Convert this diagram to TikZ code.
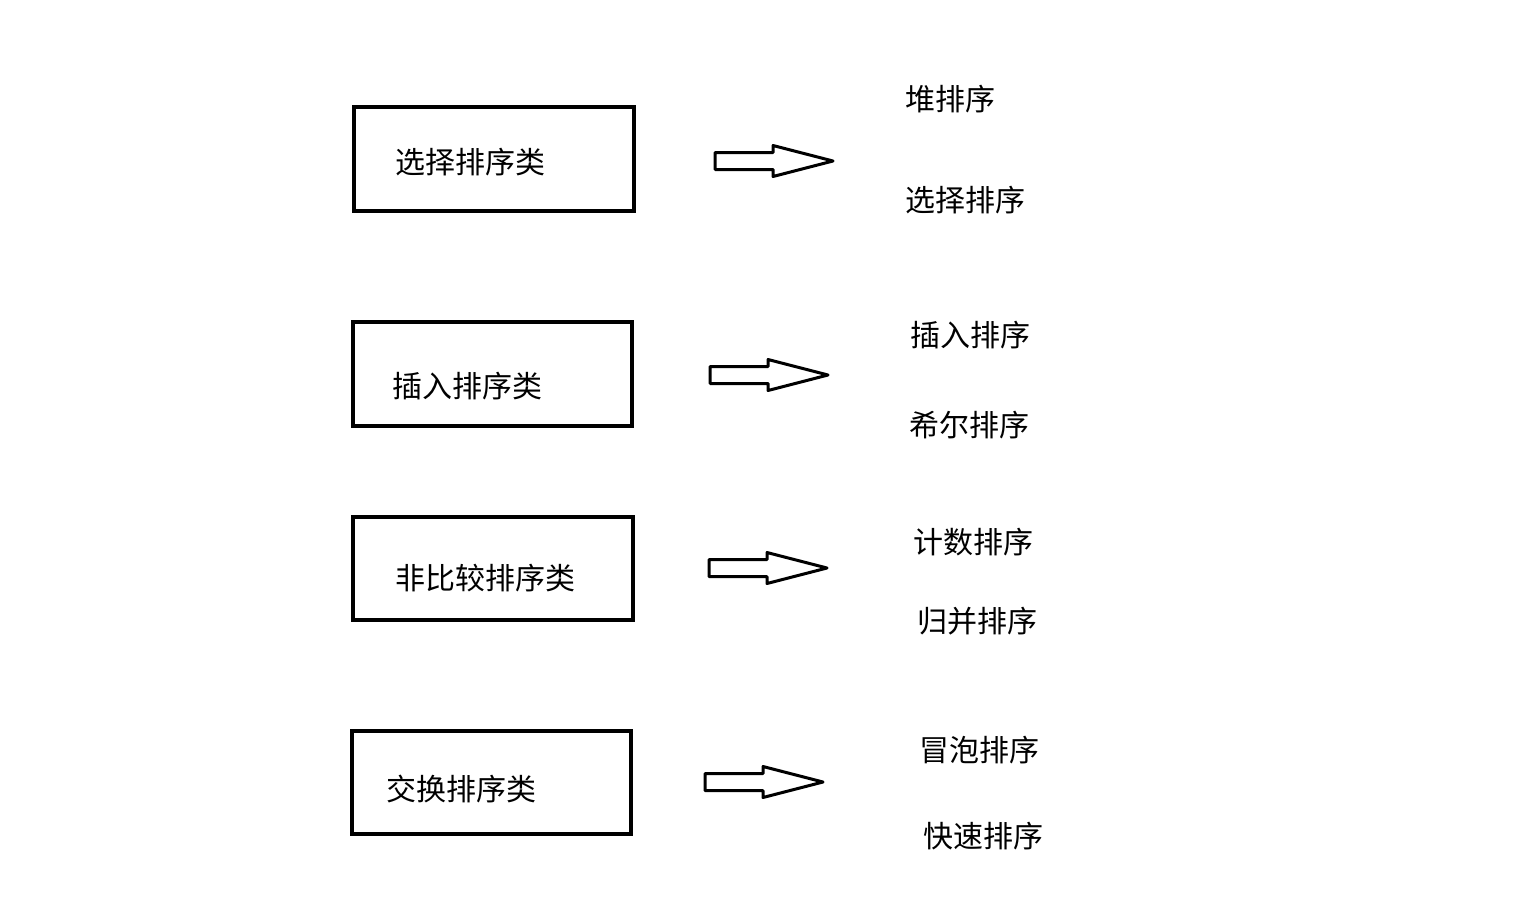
\documentclass[tikz,border=0pt]{standalone}
\usepackage{fontspec}
\setmainfont{Noto Sans CJK SC}
\begin{document}
\begin{tikzpicture}[x=0.5pt,y=-0.5pt,
  catbox/.style={draw=black,line width=1.6pt},
  label/.style={font=\fontsize{15pt}{18pt}\selectfont,anchor=west,inner sep=0pt},
  blockarrow/.pic={\draw[line width=1.5pt,line join=round]
      (0,-8.5) -- (58,-8.5) -- (58,-15.5) -- (118,0) -- (58,15.5) -- (58,8.5) -- (0,8.5) -- cycle;}]
\useasboundingbox (0,0) rectangle (1515,922);

% category boxes
\draw[catbox] (354,107) rectangle (634,211);
\draw[catbox] (353,322) rectangle (632,426);
\draw[catbox] (353,517) rectangle (633,620);
\draw[catbox] (352,731) rectangle (631,834);

\node[label] (c1) at (395,162) {选择排序类};
\node[label] (c2) at (392,386) {插入排序类};
\node[label] (c3) at (395,578) {非比较排序类};
\node[label] (c4) at (386,789) {交换排序类};

% arrows
\pic at (715,161) {blockarrow};
\pic at (710,375) {blockarrow};
\pic at (709,568) {blockarrow};
\pic at (705,782) {blockarrow};

% algorithms
\node[label] (a1) at (905,99) {堆排序};
\node[label] (a2) at (905,200) {选择排序};
\node[label] (a3) at (910,335) {插入排序};
\node[label] (a4) at (909,425) {希尔排序};
\node[label] (a5) at (913,542) {计数排序};
\node[label] (a6) at (917,621) {归并排序};
\node[label] (a7) at (919,750) {冒泡排序};
\node[label] (a8) at (923,836) {快速排序};
\end{tikzpicture}
\end{document}
